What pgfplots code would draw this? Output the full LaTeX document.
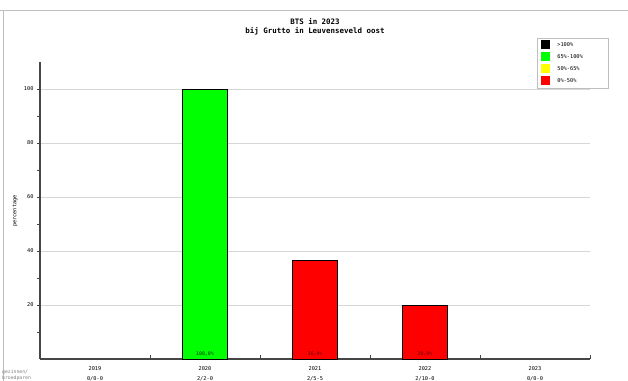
\documentclass[border=0pt]{standalone}
\usepackage{pgfplots}
\pgfplotsset{compat=1.18}
\usepackage{fontspec}
\setmainfont{DejaVu Sans Mono}
\definecolor{gridc}{RGB}{215,215,215}
\definecolor{axc}{RGB}{70,70,70}
\definecolor{brd}{RGB}{190,190,190}
\begin{document}
\begin{tikzpicture}
\clip (0bp,0bp) rectangle (628bp,-381bp);
\fill[white] (0bp,0bp) rectangle (628bp,-381bp);
\draw[brd,line width=0.8bp] (0bp,-10bp) -- (628bp,-10bp);
\draw[brd,line width=0.6bp] (3bp,-10bp) -- (3bp,-381bp);
\node[font=\bfseries\fontsize{7.5}{8}\selectfont] at (315bp,-22bp) {BTS in 2023};
\node[font=\bfseries\fontsize{7.5}{8}\selectfont] at (315bp,-31.5bp) {bij Grutto in Leuvenseveld oost};
\node[rotate=90,font=\fontsize{5.3}{6}\selectfont] at (15bp,-211bp) {percentage};
\node[anchor=west,text=gray,font=\fontsize{4.8}{5.5}\selectfont,align=left,inner sep=0pt] at (2bp,-375bp) {gezinnen/\\broedparen};
\begin{axis}[
  at={(40bp,-359bp)}, anchor=south west,
  scale only axis, width=550bp, height=297bp,
  xmin=-0.5, xmax=4.5, ymin=0, ymax=110,
  axis lines=left, axis line style={-, axc, line width=1.2bp},
  clip=false,
  ytick={20,40,60,80,100}, minor ytick={10,30,50,70,90},
  ymajorgrids, grid style={gridc, line width=0.5bp},
  major tick length=3bp, minor tick length=3bp,
  ytick style={axc, line width=0.6bp},
  ytick pos=left, tick align=outside,
  xtick={0,1,2,3,4},
  xticklabels={2019,2020,2021,2022,2023},
  xtick style={draw=none},
  extra x ticks={0.5,1.5,2.5,3.5,4.5},
  extra x tick labels={},
  extra x tick style={tick align=inside, xtick style={draw=axc,line width=0.6bp}, major tick length=4bp},
  ticklabel style={font=\fontsize{5.3}{6}\selectfont},
  /pgf/number format/assume math mode=true,
  xticklabel style={yshift=-1bp},
  legend style={at={(0.9036,1.081)}, anchor=north west, draw=brd, fill=white,
    font=\fontsize{5.3}{6}\selectfont, row sep=2.3bp, inner xsep=4bp, inner ysep=2.3bp,
    legend cell align=left, nodes={text width=45bp}},
  legend image code/.code={\draw[#1, draw=none] (0bp,-4bp) rectangle (9bp,5bp); \path (14bp,0bp);},
]
\addlegendimage{fill=black}
\addlegendentry{>100\%}
\addlegendimage{fill={rgb,255:red,0;green,255;blue,0}}
\addlegendentry{65\%-100\%}
\addlegendimage{fill={rgb,255:red,255;green,255;blue,0}}
\addlegendentry{50\%-65\%}
\addlegendimage{fill={rgb,255:red,255;green,0;blue,0}}
\addlegendentry{0\%-50\%}
\addplot[ybar, bar width=45bp, fill={rgb,255:red,0;green,255;blue,0}, draw=black, line width=0.5bp, forget plot]
  coordinates {(1,100)};
\addplot[ybar, bar width=45bp, fill={rgb,255:red,255;green,0;blue,0}, draw=black, line width=0.5bp, forget plot]
  coordinates {(2,36.4) (3,20)};
\node[font=\bfseries\fontsize{5}{5.5}\selectfont, text={rgb,255:red,0;green,110;blue,0}] at (axis cs:1,1.7) {100,0\%};
\node[font=\bfseries\fontsize{5}{5.5}\selectfont, text={rgb,255:red,140;green,0;blue,0}] at (axis cs:2,1.7) {36,4\%};
\node[font=\bfseries\fontsize{5}{5.5}\selectfont, text={rgb,255:red,140;green,0;blue,0}] at (axis cs:3,1.7) {20,0\%};
\node[font=\fontsize{5.3}{6}\selectfont] at (axis cs:0,0) [yshift=-19.5bp] {0/0-0};
\node[font=\fontsize{5.3}{6}\selectfont] at (axis cs:1,0) [yshift=-19.5bp] {2/2-0};
\node[font=\fontsize{5.3}{6}\selectfont] at (axis cs:2,0) [yshift=-19.5bp] {2/5-5};
\node[font=\fontsize{5.3}{6}\selectfont] at (axis cs:3,0) [yshift=-19.5bp] {2/10-0};
\node[font=\fontsize{5.3}{6}\selectfont] at (axis cs:4,0) [yshift=-19.5bp] {0/0-0};
\end{axis}
\end{tikzpicture}
\end{document}
